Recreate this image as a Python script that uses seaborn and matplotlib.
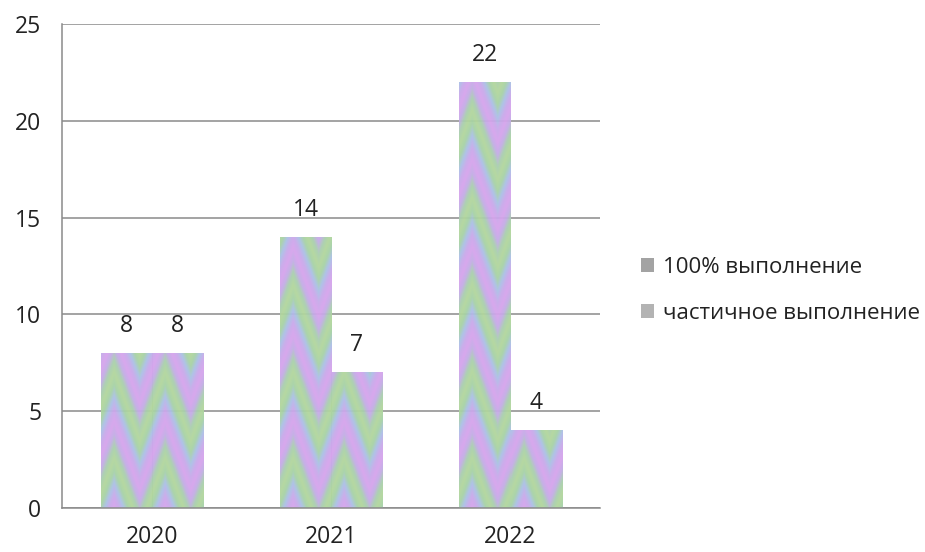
import numpy as np
import pandas as pd
import seaborn as sns
import matplotlib.pyplot as plt
from matplotlib.colors import LinearSegmentedColormap
from matplotlib.patches import Patch

years = ["2020", "2021", "2022"]
full = [8, 14, 22]
partial = [8, 7, 4]
series_names = ["100% выполнение", "частичное выполнение"]

df = pd.DataFrame({
    "year": years * 2,
    "value": full + partial,
    "type": [series_names[0]] * 3 + [series_names[1]] * 3,
})

sns.set_style("white")
plt.rcParams["font.family"] = ["Open Sans", "DejaVu Sans"]

fig = plt.figure(figsize=(9.25, 5.52), dpi=100)
ax = fig.add_axes([0.067, 0.08, 0.582, 0.8765])

sns.barplot(data=df, x="year", y="value", hue="type", width=0.57, gap=0,
            dodge=True, legend=False, ax=ax, palette=["#c9a6e4", "#c9a6e4"])

# wavy purple/green texture inside each bar
tex_cmap = LinearSegmentedColormap.from_list(
    "tex", ["#d6a4ec", "#c9a9ea", "#abc0e6", "#a7d2a6", "#b2d69c", "#a9cfae",
            "#c3ace6", "#d6a4ec"])


def tri(t):
    return np.abs((t % 1.0) * 2 - 1)


for bar in ax.patches:
    x0, y0 = bar.get_x(), bar.get_y()
    w, h = bar.get_width(), bar.get_height()
    if h <= 0:
        continue
    xs = np.linspace(x0, x0 + w, 60)
    ys = np.linspace(y0, y0 + h, int(h * 12) + 2)
    X, Y = np.meshgrid(xs, ys)
    phase = (Y / 4.5 + 0.8 * tri((X - x0) / w + 0.25)) % 1.0
    bar.set_facecolor("none")
    bar.set_edgecolor("none")
    im = ax.imshow(phase, cmap=tex_cmap, extent=(x0, x0 + w, y0, y0 + h),
                   origin="lower", aspect="auto", interpolation="bilinear",
                   zorder=2, alpha=0.95)
    im.set_clip_path(bar)

for cont in ax.containers:
    ax.bar_label(cont, padding=11, fontsize=16.5, color="#222222")

ax.set_xlim(-0.5, 2.5)
ax.set_ylim(0, 25)
ax.set_yticks(range(0, 26, 5))
ax.set_xlabel("")
ax.set_ylabel("")
ax.yaxis.grid(True, color="#8a8a8a", linewidth=1.1)
ax.set_axisbelow(True)

for s in ["top", "right"]:
    ax.spines[s].set_visible(False)
for s in ["left", "bottom"]:
    ax.spines[s].set_color("#8a8a8a")
    ax.spines[s].set_linewidth(1.1)

ax.set_xticks([-0.5, 0.5, 1.5, 2.5], minor=True)
ax.tick_params(axis="x", which="major", length=0, pad=12, labelsize=16.5,
               colors="#222222")
ax.tick_params(axis="x", which="minor", length=6, direction="out",
               color="#8a8a8a", width=1.1)
ax.tick_params(axis="y", length=7, direction="out", color="#8a8a8a",
               width=1.1, labelsize=16.5, labelcolor="#222222", pad=8)
ax.tick_params(axis="x", labelcolor="#222222")

handles = [Patch(facecolor="#a3a3a3", edgecolor="none"),
           Patch(facecolor="#b3b3b3", edgecolor="none")]
fig.legend(handles, series_names, loc="center left",
           bbox_to_anchor=(0.671, 0.474), frameon=False, fontsize=16,
           handlelength=0.6, handleheight=0.6, handletextpad=0.4,
           labelspacing=1.15, labelcolor="#222222")

fig.savefig("out.png", dpi=100)
